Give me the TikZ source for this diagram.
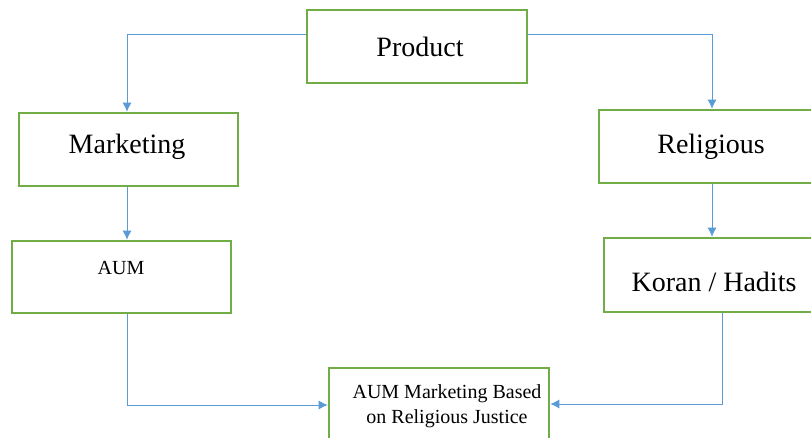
\documentclass[tikz,border=0pt]{standalone}
\usepackage{fontspec}
\setmainfont{Liberation Serif}
\usetikzlibrary{arrows.meta}
\definecolor{boxgreen}{RGB}{112,173,71}
\definecolor{arrowblue}{RGB}{91,155,213}
\tikzset{
  box/.style={draw=boxgreen, line width=2.6pt, fill=white, inner sep=0pt},
  conn/.style={draw=arrowblue, line width=0.9pt, -{Latex[length=9pt,width=9pt]}},
  big/.style={font=\fontsize{28}{30}\selectfont, inner sep=0pt},
  small/.style={font=\fontsize{20}{25}\selectfont, inner sep=0pt, align=center}
}
\begin{document}
\begin{tikzpicture}[x=1pt,y=-1pt]
\useasboundingbox (0,0) rectangle (811,438);
\begin{scope}
\clip (0,0) rectangle (811,438);
% boxes
\node[box, minimum width=220pt, minimum height=73pt] (prod) at (417,46.5) {};
\node[box, minimum width=219pt, minimum height=73pt] (mark) at (128.5,149.5) {};
\node[box, minimum width=230pt, minimum height=73pt] (rel) at (714,146.5) {};
\node[box, minimum width=219pt, minimum height=72pt] (aum) at (121.5,277) {};
\node[box, minimum width=230pt, minimum height=74pt] (kor) at (719,275) {};
\node[box, minimum width=220pt, minimum height=90pt] (fin) at (439,413) {};
% texts
\node[big] (tprod) at (420,47) {Product};
\node[big] (tmark) at (127,147) {Marketing};
\node[big] (trel) at (711,147) {Religious};
\node[big] (tkor) at (714,282) {Koran / Hadits};
\node[small] (taum) at (121,268) {AUM};
\node[small] (tfin) at (447,406) {AUM Marketing Based\\ on Religious Justice};
% connectors
\draw[conn] (prod.west |- 0,34) -| (mark.north -| 127,0);
\draw[conn] (prod.east |- 0,34) -| (rel.north -| 712,0);
\draw[conn] (mark.south -| 127,0) -- (aum.north -| 127,0);
\draw[conn] (rel.south -| 712,0) -- (kor.north -| 712,0);
\draw[conn] (aum.south -| 127,0) |- (fin.west |- 0,405);
\draw[conn] (kor.south -| 722,0) |- (fin.east |- 0,404);
\end{scope}
\end{tikzpicture}
\end{document}
